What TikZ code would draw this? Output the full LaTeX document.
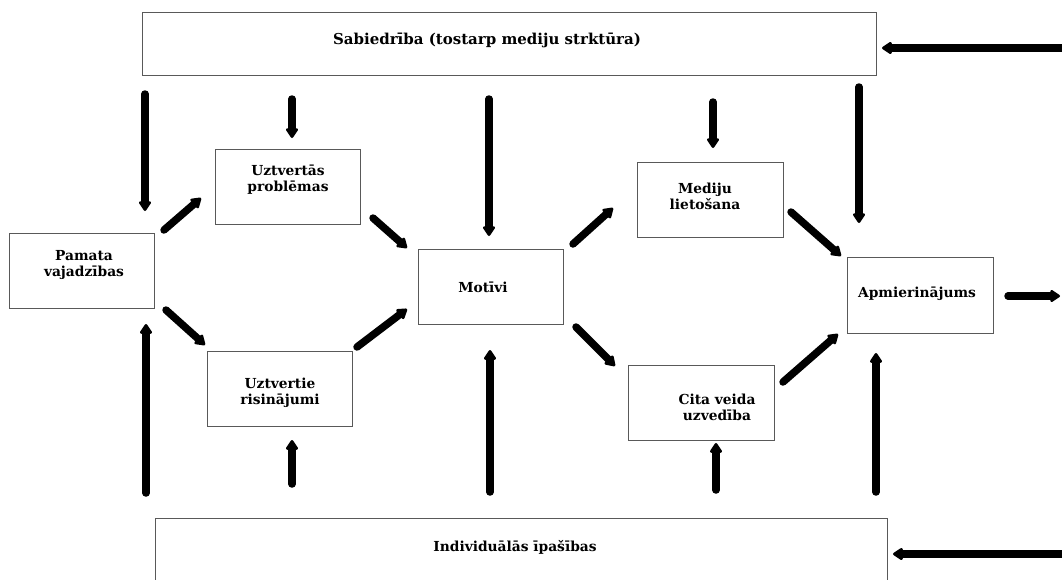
\documentclass[tikz,border=0pt]{standalone}
\usepackage{fontspec}
\newfontfamily\lblfont{DejaVu Serif}
\usetikzlibrary{arrows.meta}
\tikzset{
  box/.style={draw=black!65, line width=1pt, rectangle, inner sep=0pt},
  lbl/.style={font=\lblfont\bfseries\fontsize{13.8}{16}\selectfont, align=center, inner sep=0pt},
  arr/.style={line width=7.5pt, line cap=round, -{Triangle[length=11pt,width=13.5pt,round]}},
}
\begin{document}
\begin{tikzpicture}[x=1pt,y=-1pt]
\useasboundingbox (0,0) rectangle (1062,579);
\clip (0,0) rectangle (1062,579);
% boxes
\node[box, minimum width=734pt, minimum height=63pt] (soc) at (509,43.5) {};
\node[box, minimum width=732pt, minimum height=84pt] (ind) at (521,560) {};
\node[box, minimum width=145pt, minimum height=75pt] (pam) at (81.5,270.5) {};
\node[box, minimum width=145pt, minimum height=75pt] (prob) at (287.5,186.5) {};
\node[box, minimum width=145pt, minimum height=75pt] (ris) at (279.5,388.5) {};
\node[box, minimum width=145pt, minimum height=75pt] (mot) at (490.5,286.5) {};
\node[box, minimum width=146pt, minimum height=75pt] (med) at (710,199.5) {};
\node[box, minimum width=146pt, minimum height=76pt] (apm) at (920,295) {};
\node[box, minimum width=146pt, minimum height=75pt] (cit) at (701,402.5) {};
% labels
\node[lbl, font=\lblfont\bfseries\fontsize{15}{18}\selectfont] (socT) at (487,40) {Sabiedrība (tostarp mediju strktūra)};
\node[lbl] (indT) at (515,547) {Individuālās īpašības};
\node[lbl] (pamT) at (84,265) {Pamata\\vajadzības};
\node[lbl] (probT) at (288,180) {Uztvertās\\problēmas};
\node[lbl] (risT) at (280,393) {Uztvertie\\risinājumi};
\node[lbl] (motT) at (483,287) {Motīvi};
\node[lbl] (medT) at (705,196) {Mediju\\lietošana};
\node[lbl] (apmT) at (917,294) {Apmierinājums};
\node[lbl] (citT) at (717,407) {Cita veida\\uzvedība};
% arrow end coordinates
\coordinate (d1s) at (145,94);  \coordinate (d1e) at (145,211);
\coordinate (d2s) at (292,99);  \coordinate (d2e) at (292,138);
\coordinate (d3s) at (489,99);  \coordinate (d3e) at (489,236);
\coordinate (d4s) at (713,102); \coordinate (d4e) at (713,148);
\coordinate (d5s) at (859,87);  \coordinate (d5e) at (859,223);
\coordinate (u1s) at (146,493); \coordinate (u1e) at (146,324);
\coordinate (u2s) at (292,484); \coordinate (u2e) at (292,440);
\coordinate (u3s) at (490,492); \coordinate (u3e) at (490,350);
\coordinate (u4s) at (716,490); \coordinate (u4e) at (716,443);
\coordinate (u5s) at (876,492); \coordinate (u5e) at (876,353);
\coordinate (h1s) at (1068,48);  \coordinate (h1e) at (882,48);
\coordinate (h2s) at (1068,554); \coordinate (h2e) at (893,554);
\coordinate (h3s) at (1008,296); \coordinate (h3e) at (1060,296);
\coordinate (g1s) at (164,230); \coordinate (g1e) at (201,198);
\coordinate (g2s) at (166,310); \coordinate (g2e) at (205,345);
\coordinate (g3s) at (373,218); \coordinate (g3e) at (407,248);
\coordinate (g4s) at (357,347); \coordinate (g4e) at (407,309);
\coordinate (g5s) at (573,244); \coordinate (g5e) at (613,208);
\coordinate (g6s) at (576,327); \coordinate (g6e) at (615,366);
\coordinate (g7s) at (791,212); \coordinate (g7e) at (841,256);
\coordinate (g8s) at (783,382); \coordinate (g8e) at (838,334);
% arrows
\foreach \a in {d1,d2,d3,d4,d5,u1,u2,u3,u4,u5,h1,h2,h3,g1,g2,g3,g4,g5,g6,g7,g8}
  \draw[arr] (\a s) -- (\a e);
\end{tikzpicture}
\end{document}
